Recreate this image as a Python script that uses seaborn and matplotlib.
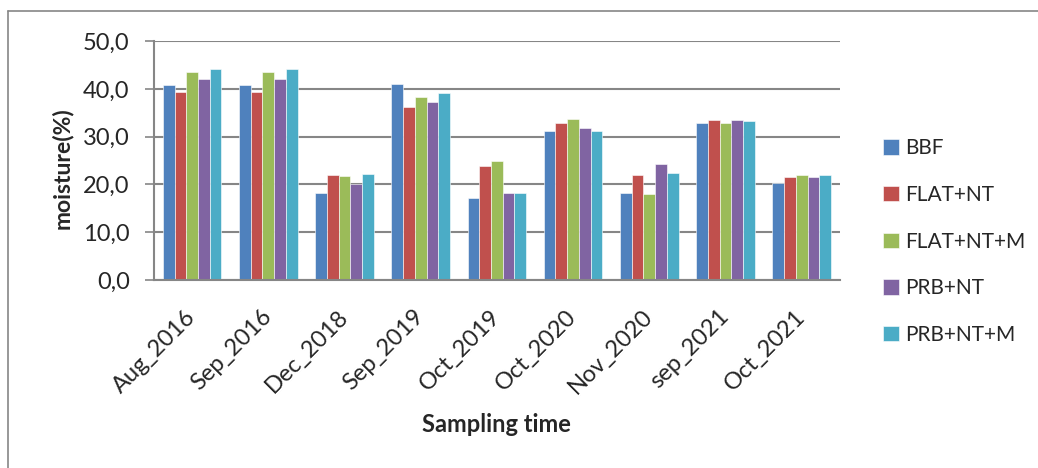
import pandas as pd
import matplotlib.pyplot as plt
from matplotlib.lines import Line2D
from matplotlib.ticker import FuncFormatter
import seaborn as sns

# sampling dates on the x axis
dates = ["Aug_2016", "Sep_2016", "Dec_2018", "Sep_2019", "Oct_2019",
         "Oct_2020", "Nov_2020", "sep_2021", "Oct_2021"]

# soil moisture (%) per treatment
bbf        = [40.9, 40.9, 18.3, 41.1, 17.1, 31.3, 18.2, 32.8, 20.4]
flat_nt    = [39.4, 39.4, 21.9, 36.3, 23.9, 32.8, 22.0, 33.4, 21.6]
flat_nt_m  = [43.6, 43.6, 21.7, 38.4, 25.0, 33.7, 18.1, 32.9, 21.9]
prb_nt     = [42.0, 42.0, 20.0, 37.2, 18.2, 31.9, 24.2, 33.6, 21.5]
prb_nt_m   = [44.2, 44.2, 22.1, 39.2, 18.3, 31.3, 22.3, 33.2, 22.0]

treatments = ["BBF", "FLAT+NT", "FLAT+NT+M", "PRB+NT", "PRB+NT+M"]
colors = ["#4F81BD", "#C0504D", "#9BBB59", "#8064A2", "#4BACC6"]

df = pd.DataFrame({
    "date": dates * 5,
    "treatment": [t for t in treatments for _ in dates],
    "moisture": bbf + flat_nt + flat_nt_m + prb_nt + prb_nt_m,
})

sns.set_style("white")
plt.rcParams["font.family"] = ["Lato", "DejaVu Sans"]

fig = plt.figure(figsize=(10.38, 4.68), dpi=100)
ax = fig.add_axes([0.1484, 0.4017, 0.6606, 0.5103])

sns.barplot(data=df, x="date", y="moisture", hue="treatment",
            order=dates, hue_order=treatments, palette=colors,
            width=0.77, saturation=1, errorbar=None, ax=ax,
            edgecolor="white", linewidth=0.4)

ax.set_ylim(0, 50)
ax.set_yticks(range(0, 51, 10))
ax.yaxis.set_major_formatter(FuncFormatter(lambda v, p: f"{v:.1f}".replace(".", ",")))
ax.set_xlim(-0.5, len(dates) - 0.5)
ax.grid(axis="y", color="#868686", linewidth=1.5)
ax.set_axisbelow(True)

for side in ["top", "right"]:
    ax.spines[side].set_visible(False)
for side in ["left", "bottom"]:
    ax.spines[side].set_color("#868686")
    ax.spines[side].set_linewidth(1.5)

ax.tick_params(axis="y", left=True, length=6.5, width=1.2, color="#868686",
               labelsize=17, pad=11)
ax.tick_params(axis="x", bottom=False, length=0, labelsize=17, pad=24)
plt.setp(ax.get_xticklabels(), rotation=45, ha="right", va="center",
         rotation_mode="anchor")

ax.set_xlabel("Sampling time", fontsize=17, fontweight="bold", va="center")
ax.xaxis.set_label_coords(0.5, -0.607)
ax.set_ylabel("moisture(%)", fontsize=16.5, fontweight="bold", va="center")
ax.yaxis.set_label_coords(-0.134, 0.47)

ax.legend(loc="center left", bbox_to_anchor=(1.036, 0.161), frameon=False,
          fontsize=15, handlelength=0.75, handleheight=0.75,
          handletextpad=0.3, labelspacing=1.28)

# chart-area border (top and left edges visible in the original)
fig.add_artist(Line2D([8 / 1038, 8 / 1038], [0, 1 - 11 / 468],
                      transform=fig.transFigure, color="#868686", linewidth=1.2))
fig.add_artist(Line2D([8 / 1038, 1], [1 - 11 / 468, 1 - 11 / 468],
                      transform=fig.transFigure, color="#868686", linewidth=1.2))

fig.savefig("out.png", dpi=100)
